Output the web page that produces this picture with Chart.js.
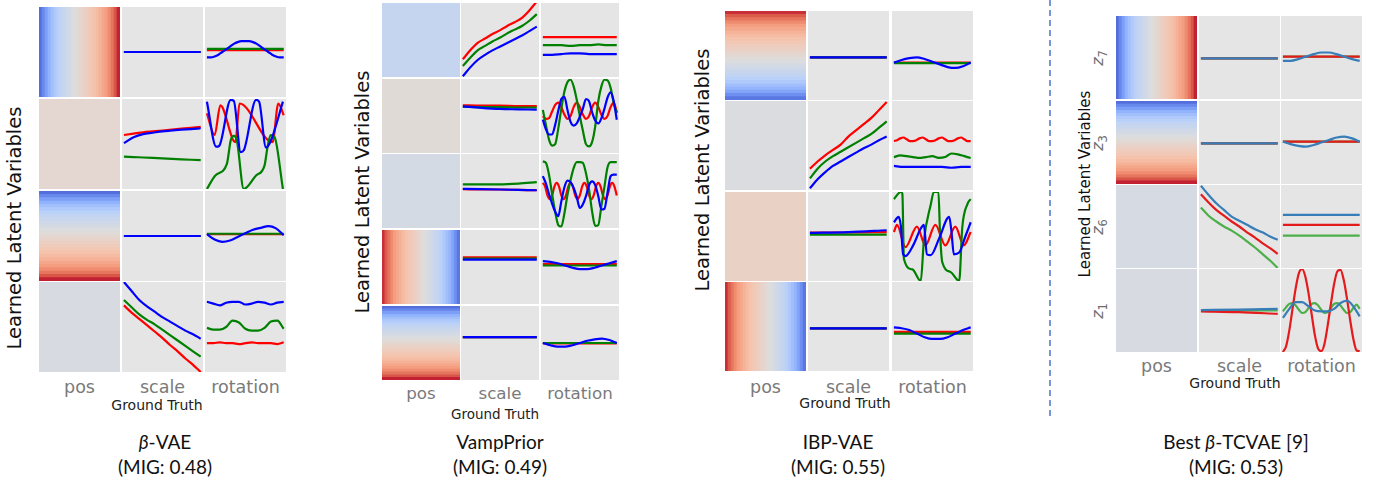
<!DOCTYPE html>
<html>
<head>
<meta charset="utf-8">
<script src="https://cdn.jsdelivr.net/npm/chart.js@4.4.1/dist/chart.umd.min.js"></script>
<style>
  html, body { margin: 0; padding: 0; background: #fff; }
  #stage { position: relative; width: 1374px; height: 485px; overflow: hidden; }
  canvas.cell { position: absolute; }
  .txt { position: absolute; white-space: nowrap; line-height: 1; }
  .tick { font-family: 'DejaVu Sans', sans-serif; color: #7a7a7a; }
  .gt { font-family: 'DejaVu Sans', sans-serif; color: #222; }
  .ytitle { font-family: 'DejaVu Sans', sans-serif; color: #111; }
  .zlab { font-family: 'DejaVu Sans', sans-serif; color: #6e6e6e; font-size: 16px; }
  .zlab sub { font-size: 0.72em; font-style: normal; }
  .title { font-family: 'Lato', 'Noto Sans', sans-serif; color: #111; font-size: 19px; }
</style>
</head>
<body>
<div id="stage"></div>
<script>
// ---- data ----
const gtLabels = ['pos', 'scale', 'rotation'];
const modelNames = ['β-VAE', 'VampPrior', 'IBP-VAE', 'Best β-TCVAE [9]'];
const migScores = [0.48, 0.49, 0.55, 0.53];
const tcvaeLatents = ['7', '3', '6', '1'];

// coolwarm values along a gradient cell, 0 = blue, 1 = red
const rampBR = [0.08, 0.14, 0.20, 0.26, 0.31, 0.35, 0.38, 0.41, 0.43, 0.45, 0.47, 0.49, 0.51, 0.53,
  0.55, 0.57, 0.59, 0.61, 0.63, 0.65, 0.68, 0.71, 0.74, 0.78, 0.83, 0.89, 0.96];
const rampRB = [0.94, 0.88, 0.83, 0.78, 0.74, 0.71, 0.68, 0.65, 0.63, 0.61, 0.59, 0.57, 0.55, 0.53,
  0.51, 0.49, 0.47, 0.45, 0.43, 0.41, 0.38, 0.35, 0.31, 0.27, 0.22, 0.16, 0.10];

// beta-VAE
const bvaeHeat = [
  { dir: 'h', values: rampBR },
  { dir: 'h', values: [0.535] },
  { dir: 'v', values: rampBR },
  { dir: 'h', values: [0.48] },
];
const bvaeScale = [
  { red: [0.5, 0.5], green: [0.5, 0.5], blue: [0.5, 0.5] },
  { red: [0.60, 0.615, 0.63, 0.64, 0.65, 0.66, 0.67, 0.68, 0.69],
    green: [0.36, 0.355, 0.35, 0.345, 0.34, 0.335, 0.33, 0.325, 0.32],
    blue: [0.51, 0.575, 0.61, 0.625, 0.64, 0.65, 0.66, 0.665, 0.675] },
  { red: [0.5, 0.5], green: [0.5, 0.5], blue: [0.5, 0.5] },
  { red: [0.74, 0.66, 0.59, 0.52, 0.45, 0.38, 0.30, 0.23, 0.15, 0.08, 0.0],
    green: [0.80, 0.72, 0.64, 0.58, 0.53, 0.47, 0.41, 0.35, 0.29, 0.23, 0.17],
    blue: [1.0, 0.90, 0.80, 0.73, 0.67, 0.61, 0.56, 0.51, 0.46, 0.42, 0.37] },
];
const bvaeRot = [
  { red: [0.52, 0.52], green: [0.535, 0.535],
    blue: [0.44, 0.44, 0.45, 0.47, 0.50, 0.53, 0.56, 0.59, 0.61, 0.62, 0.62, 0.62, 0.61, 0.59, 0.56, 0.53, 0.50, 0.47, 0.45, 0.44, 0.44] },
  { red: [[0, 0.84], [0.10, 0.60], [0.175, 0.93], [0.37, 0.52], [0.425, 0.95], [0.855, 0.52], [0.93, 0.95], [1.0, 0.82]],
    green: [[0, 0.0], [0.11, 0.15], [0.26, 0.28], [0.31, 0.54], [0.35, 0.59], [0.39, 0.54], [0.48, 0.0], [0.64, 0.15],
      [0.75, 0.26], [0.79, 0.47], [0.83, 0.60], [0.88, 0.58], [0.99, 0.0]],
    blue: [[0, 0.97], [0.12, 0.47], [0.16, 0.48], [0.31, 0.99], [0.35, 0.98], [0.44, 0.41], [0.48, 0.43], [0.64, 0.99],
      [0.68, 0.97], [0.77, 0.46], [0.83, 0.53], [0.99, 0.97]] },
  { red: [0.52, 0.52], green: [0.525, 0.525],
    blue: [0.52, 0.46, 0.435, 0.45, 0.49, 0.53, 0.57, 0.59, 0.61, 0.585, 0.51] },
  { red: [0.32, 0.32, 0.33, 0.32, 0.32, 0.31, 0.32, 0.33, 0.32, 0.32, 0.32, 0.31, 0.33],
    green: [0.49, 0.47, 0.47, 0.50, 0.57, 0.55, 0.48, 0.46, 0.46, 0.49, 0.56, 0.57, 0.48],
    blue: [0.78, 0.76, 0.74, 0.77, 0.78, 0.78, 0.75, 0.76, 0.78, 0.77, 0.75, 0.77, 0.78] },
];

// VampPrior
const vampHeat = [
  { dir: 'h', values: [0.42] },
  { dir: 'h', values: [0.515] },
  { dir: 'h', values: [0.47] },
  { dir: 'h', values: rampRB },
  { dir: 'v', values: rampBR },
];
const vampScale = [
  { red: [0.24, 0.36, 0.46, 0.52, 0.58, 0.63, 0.69, 0.74, 0.80, 0.90, 1.02],
    green: [0.15, 0.26, 0.36, 0.42, 0.48, 0.53, 0.59, 0.64, 0.69, 0.76, 0.85],
    blue: [0.01, 0.13, 0.23, 0.30, 0.36, 0.41, 0.46, 0.51, 0.56, 0.62, 0.68] },
  { red: [0.645, 0.64, 0.64, 0.635, 0.635], green: [0.625, 0.62, 0.62, 0.615, 0.615],
    blue: [0.63, 0.61, 0.595, 0.59, 0.585] },
  { red: [0.525, 0.52, 0.52, 0.515, 0.51], green: [0.59, 0.59, 0.59, 0.60, 0.62],
    blue: [0.53, 0.525, 0.52, 0.515, 0.51] },
  { red: [0.63, 0.63], green: [0.615, 0.615], blue: [0.60, 0.60] },
  { red: [0.58, 0.58], green: [0.58, 0.58], blue: [0.58, 0.58] },
];
const vampRot = [
  { red: [0.54, 0.54], green: [0.43, 0.43, 0.43, 0.42, 0.43, 0.43, 0.44, 0.43, 0.43],
    blue: [0.30, 0.30, 0.31, 0.32, 0.32, 0.31, 0.31, 0.31, 0.31] },
  { red: [0.50, 0.46, 0.47, 0.56, 0.65, 0.68, 0.62, 0.52, 0.46, 0.50, 0.62, 0.68, 0.62, 0.52, 0.46, 0.50, 0.62, 0.68, 0.62, 0.52, 0.46, 0.50, 0.62, 0.68, 0.55],
    green: [0.58, 0.38, 0.18, 0.10, 0.12, 0.33, 0.60, 0.83, 0.96, 0.99, 0.90, 0.72, 0.50, 0.30, 0.12, 0.09, 0.15, 0.36, 0.70, 0.90, 0.99, 0.98, 0.88, 0.68, 0.54],
    blue: [0.45, 0.32, 0.25, 0.25, 0.38, 0.57, 0.73, 0.76, 0.58, 0.42, 0.37, 0.40, 0.49, 0.60, 0.73, 0.70, 0.55, 0.44, 0.40, 0.47, 0.60, 0.75, 0.82, 0.70, 0.45] },
  { red: [0.61, 0.56, 0.44, 0.39, 0.44, 0.56, 0.61, 0.56, 0.44, 0.39, 0.44, 0.56, 0.61, 0.56, 0.44, 0.39, 0.44,
      0.56, 0.61, 0.56, 0.44, 0.39, 0.44, 0.56, 0.61, 0.56, 0.44, 0.39, 0.44, 0.56, 0.61, 0.56, 0.44],
    green: [0.90, 0.88, 0.72, 0.46, 0.22, 0.04, 0.02, 0.20, 0.45, 0.65, 0.81, 0.89, 0.89, 0.88, 0.74, 0.52, 0.22, 0.03, 0.04, 0.30, 0.56, 0.82, 0.89, 0.89, 0.89],
    blue: [0.70, 0.60, 0.46, 0.33, 0.22, 0.16, 0.36, 0.55, 0.64, 0.62, 0.54, 0.42, 0.27, 0.32, 0.43, 0.58, 0.63, 0.58, 0.43, 0.25, 0.26, 0.48, 0.70, 0.72, 0.72] },
  { red: [0.54, 0.54], green: [0.52, 0.52],
    blue: [0.58, 0.57, 0.55, 0.52, 0.49, 0.47, 0.47, 0.49, 0.52, 0.55, 0.58] },
  { red: [0.495, 0.495], green: [0.50, 0.50],
    blue: [0.50, 0.47, 0.45, 0.45, 0.47, 0.50, 0.53, 0.55, 0.56, 0.54, 0.50] },
];

// IBP-VAE
const ibpHeat = [
  { dir: 'v', values: rampRB },
  { dir: 'h', values: [0.49] },
  { dir: 'h', values: [0.56] },
  { dir: 'h', values: rampRB },
];
const ibpScale = [
  { red: [0.48, 0.48], green: [0.48, 0.48], blue: [0.48, 0.48] },
  { red: [0.24, 0.32, 0.39, 0.45, 0.51, 0.60, 0.67, 0.74, 0.81, 0.90, 0.99],
    green: [0.13, 0.24, 0.32, 0.38, 0.43, 0.48, 0.53, 0.58, 0.63, 0.70, 0.77],
    blue: [0.02, 0.12, 0.20, 0.27, 0.32, 0.37, 0.42, 0.47, 0.51, 0.56, 0.60] },
  { red: [0.545, 0.545, 0.55], green: [0.52, 0.52, 0.52], blue: [0.54, 0.55, 0.57] },
  { red: [0.48, 0.48], green: [0.48, 0.48], blue: [0.48, 0.48] },
];
const ibpRot = [
  { red: [0.42, 0.42], green: [0.415, 0.415],
    blue: [0.42, 0.45, 0.47, 0.48, 0.46, 0.43, 0.40, 0.37, 0.36, 0.38, 0.42] },
  { red: [0.55, 0.56, 0.58, 0.59, 0.57, 0.55, 0.55, 0.56, 0.58, 0.59, 0.57, 0.55, 0.55, 0.56, 0.58, 0.59, 0.57, 0.55, 0.55, 0.56, 0.58, 0.59, 0.57, 0.55, 0.55],
    green: [0.37, 0.39, 0.38, 0.37, 0.36, 0.37, 0.38, 0.36, 0.37, 0.41, 0.40, 0.38, 0.36],
    blue: [0.27, 0.26, 0.26, 0.26, 0.26, 0.26, 0.25, 0.26, 0.26] },
  { red: [[0, 0.55], [0.04, 0.63], [0.15, 0.38], [0.30, 0.61], [0.41, 0.40], [0.54, 0.63], [0.67, 0.40], [0.80, 0.61], [0.91, 0.40], [1.0, 0.55]],
    green: [[0, 0.92], [0.09, 1.0], [0.11, 0.98], [0.13, 0.25], [0.24, 0.13], [0.35, 0.0], [0.39, 0.45], [0.48, 0.86], [0.52, 1.0],
      [0.58, 1.0], [0.60, 0.55], [0.63, 0.21], [0.74, 0.10], [0.85, 0.0], [0.89, 0.60], [0.96, 0.87], [1.0, 0.92]],
    blue: [[0, 0.66], [0.06, 0.72], [0.09, 0.62], [0.12, 0.30], [0.15, 0.28], [0.25, 0.40], [0.35, 0.59], [0.39, 0.63], [0.43, 0.30],
      [0.48, 0.29], [0.59, 0.48], [0.72, 0.72], [0.75, 0.55], [0.78, 0.30], [0.85, 0.32], [0.93, 0.50], [1.0, 0.66]] },
  { red: [0.44, 0.44], green: [0.42, 0.42],
    blue: [0.49, 0.48, 0.46, 0.42, 0.38, 0.36, 0.36, 0.38, 0.42, 0.46, 0.49] },
];

// best beta-TCVAE
const tcvaeHeat = [
  { dir: 'h', values: rampBR },
  { dir: 'v', values: rampBR },
  { dir: 'h', values: [0.475] },
  { dir: 'h', values: [0.48] },
];
const tcvaeScale = [
  { red: [0.49, 0.49], green: [0.49, 0.49], blue: [0.49, 0.49] },
  { red: [0.49, 0.49], green: [0.49, 0.49], blue: [0.49, 0.49] },
  { red: [0.89, 0.79, 0.70, 0.63, 0.56, 0.50, 0.43, 0.37, 0.30, 0.24, 0.17],
    green: [0.73, 0.63, 0.56, 0.50, 0.45, 0.39, 0.32, 0.25, 0.17, 0.09, 0.0],
    blue: [0.99, 0.88, 0.78, 0.70, 0.62, 0.57, 0.52, 0.47, 0.43, 0.38, 0.34] },
  { red: [0.49, 0.48, 0.46], green: [0.50, 0.50, 0.50], blue: [0.505, 0.51, 0.52] },
];
const tcvaeRot = [
  { red: [0.51, 0.51], green: [0.51, 0.51],
    blue: [0.46, 0.46, 0.48, 0.51, 0.54, 0.56, 0.56, 0.54, 0.51, 0.48, 0.46] },
  { red: [0.51, 0.51], green: [0.51, 0.51],
    blue: [0.51, 0.48, 0.46, 0.45, 0.47, 0.50, 0.53, 0.56, 0.57, 0.55, 0.51] },
  { red: [0.52, 0.52], green: [0.39, 0.39], blue: [0.64, 0.64] },
  { red: [0.0, 0.07, 0.26, 0.52, 0.77, 0.95, 1.0, 0.91, 0.71, 0.45, 0.20, 0.04, 0.01, 0.10, 0.32, 0.58, 0.82, 0.97, 0.99, 0.87, 0.65, 0.39, 0.16, 0.02, 0.01],
    green: [0.49, 0.54, 0.58, 0.59, 0.56, 0.51, 0.47, 0.48, 0.53, 0.58, 0.59, 0.56, 0.51, 0.47, 0.48, 0.53, 0.58, 0.59, 0.56, 0.51, 0.47, 0.48, 0.53, 0.57, 0.52],
    blue: [0.41, 0.52, 0.60, 0.60, 0.55, 0.50, 0.49, 0.49, 0.52, 0.59, 0.62, 0.55, 0.43] },
];

// ---- layout & style ----
const basicColors = { red: '#ff0000', green: '#008000', blue: '#0000ff' };
const tcvaeColors = { red: '#e41a1c', green: '#4daf4a', blue: '#377eb8' };

// chart.js paints dataset 0 last (on top), so the first key is the topmost line
const panels = [
  { heat: bvaeHeat, scale: bvaeScale, rot: bvaeRot, colors: basicColors, stack: ['blue', 'green', 'red'],
    colX: [39, 122, 205], colW: 81, rowY: [7, 99, 191, 282], rowH: 90,
    tickY: 388, tickSize: 17.5, gt: [157, 405, 14], yTitle: [15, 228, 19.5], titleX: 165 },
  { heat: vampHeat, scale: vampScale, rot: vampRot, colors: basicColors, stack: ['blue', 'green', 'red'],
    colX: [382, 461, 541], colW: 78, rowY: [3, 79, 154, 230, 306], rowH: 74,
    tickY: 393, tickSize: 16.7, gt: [495, 415, 13.5], yTitle: [363, 192, 19.5], titleX: 500 },
  { heat: ibpHeat, scale: ibpScale, rot: ibpRot, colors: basicColors, stack: ['blue', 'green', 'red'],
    colX: [725, 808, 892], colW: 81, rowY: [11, 101, 192, 282], rowH: 89,
    tickY: 388, tickSize: 17.5, gt: [845, 403, 14], yTitle: [703, 170, 19.5], titleX: 838 },
  { heat: tcvaeHeat, scale: tcvaeScale, rot: tcvaeRot, colors: tcvaeColors, stack: ['blue', 'red', 'green'],
    colX: [1116, 1199, 1281], colW: 81, rowY: [16, 101, 185, 269], rowH: 83,
    tickY: 367, tickSize: 17.5, gt: [1235, 383, 14], yTitle: [1085, 184, 15], titleX: 1236, zX: 1100 },
];

const stage = document.getElementById('stage');

const coolwarmStops = [[59, 76, 192], [98, 130, 234], [141, 176, 254], [184, 208, 249], [221, 221, 221],
  [245, 196, 173], [244, 154, 123], [222, 96, 77], [180, 4, 38]];
function coolwarm(t) {
  t = Math.min(1, Math.max(0, t));
  const s = t * 8, i = Math.min(7, Math.floor(s)), f = s - i;
  const a = coolwarmStops[i], b = coolwarmStops[i + 1];
  const c = a.map((v, k) => Math.round(v + (b[k] - v) * f));
  return `rgb(${c[0]},${c[1]},${c[2]})`;
}

const cellBg = {
  id: 'cellBg',
  beforeDraw(chart) {
    const { ctx, chartArea: a } = chart;
    ctx.save();
    ctx.fillStyle = '#e5e5e5';
    ctx.fillRect(a.left, a.top, a.width, a.height);
    ctx.restore();
  }
};

const baseOptions = {
  responsive: false,
  animation: false,
  events: [],
  layout: { padding: 0 },
  plugins: { legend: { display: false }, tooltip: { enabled: false } },
};

function makeCanvas(x, y, w, h) {
  const c = document.createElement('canvas');
  c.className = 'cell';
  c.width = w; c.height = h;
  c.style.left = x + 'px'; c.style.top = y + 'px';
  c.style.width = w + 'px'; c.style.height = h + 'px';
  stage.appendChild(c);
  return c;
}

function heatChart(canvas, heat) {
  const vertical = heat.dir === 'v';
  const valueAxis = { display: false, min: 0, max: 1 };
  const catAxis = { display: false };
  new Chart(canvas, {
    type: 'bar',
    data: {
      labels: heat.values.map((_, i) => i),
      datasets: [{
        data: heat.values.map(() => 1),
        backgroundColor: heat.values.map(coolwarm),
        borderWidth: 0,
        barPercentage: 1,
        categoryPercentage: 1,
      }]
    },
    options: {
      ...baseOptions,
      indexAxis: vertical ? 'y' : 'x',
      scales: vertical ? { x: valueAxis, y: catAxis } : { x: catAxis, y: valueAxis },
    }
  });
}

function toPoints(series) {
  return series.map((v, i) => Array.isArray(v)
    ? { x: v[0], y: v[1] }
    : { x: i / (series.length - 1), y: v });
}

function lineChart(canvas, cell, colors, stack) {
  const datasets = stack.filter(k => cell[k]).map(k => ({
    data: toPoints(cell[k]),
    borderColor: colors[k],
    borderWidth: 2.2,
    pointRadius: 0,
    fill: false,
    clip: 0,
    cubicInterpolationMode: 'monotone',
  }));
  new Chart(canvas, {
    type: 'line',
    data: { datasets },
    options: {
      ...baseOptions,
      scales: {
        x: { type: 'linear', display: false, min: -0.025, max: 1.03 },
        y: { display: false, min: 0, max: 1 },
      }
    },
    plugins: [cellBg]
  });
}

function addText(html, cx, cy, cls, size, rotate) {
  const d = document.createElement('div');
  d.className = 'txt ' + cls;
  d.innerHTML = html;
  d.style.left = cx + 'px';
  d.style.top = cy + 'px';
  if (size) d.style.fontSize = size + 'px';
  d.style.transform = 'translate(-50%,-50%)' + (rotate ? ' rotate(-90deg)' : '');
  stage.appendChild(d);
}

panels.forEach((p, pi) => {
  p.rowY.forEach((y, r) => {
    heatChart(makeCanvas(p.colX[0], y, p.colW, p.rowH), p.heat[r]);
    lineChart(makeCanvas(p.colX[1], y, p.colW, p.rowH), p.scale[r], p.colors, p.stack);
    lineChart(makeCanvas(p.colX[2], y, p.colW, p.rowH), p.rot[r], p.colors, p.stack);
    if (p.zX) {
      addText('<i>z</i><sub>' + tcvaeLatents[r] + '</sub>', p.zX, y + p.rowH / 2, 'zlab', 0, true);
    }
  });
  gtLabels.forEach((lab, c) => addText(lab, p.colX[c] + p.colW / 2, p.tickY, 'tick', p.tickSize, false));
  addText('Ground Truth', p.gt[0], p.gt[1], 'gt', p.gt[2], false);
  addText('Learned Latent Variables', p.yTitle[0], p.yTitle[1], 'ytitle', p.yTitle[2], true);
  addText(modelNames[pi].replace('β', '<i>β</i>'), p.titleX, 441, 'title', 0, false);
  addText('(MIG: ' + migScores[pi].toFixed(2) + ')', p.titleX, 466, 'title', 0, false);
});

// dashed separator before the last panel
const sep = document.createElementNS('http://www.w3.org/2000/svg', 'svg');
sep.setAttribute('width', '4');
sep.setAttribute('height', '420');
sep.style.position = 'absolute';
sep.style.left = '1048px';
sep.style.top = '0px';
sep.innerHTML = '<line x1="2" y1="0" x2="2" y2="420" stroke="#4a78c8" stroke-width="1.5" stroke-dasharray="6 4"/>';
stage.appendChild(sep);
</script>
</body>
</html>
